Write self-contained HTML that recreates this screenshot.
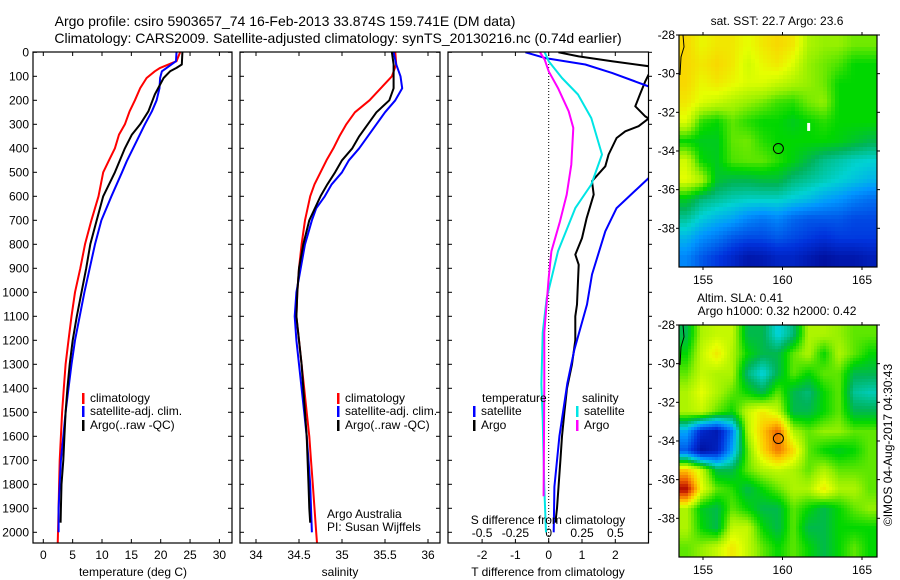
<!DOCTYPE html>
<html><head><meta charset="utf-8"><style>
html,body{margin:0;padding:0;background:#fff;}
svg{display:block;font-family:"Liberation Sans",sans-serif;}
</style></head><body>
<svg id="fig" width="900" height="580" viewBox="0 0 900 580">
<defs>
<clipPath id="c1"><rect x="33" y="52" width="199" height="491"/></clipPath>
<clipPath id="c2"><rect x="240" y="52" width="200" height="491"/></clipPath>
<clipPath id="c3"><rect x="448" y="52" width="200.5" height="491"/></clipPath>
<clipPath id="cm1"><rect x="679" y="35" width="198" height="232"/></clipPath>
<clipPath id="cm2"><rect x="679" y="325" width="198" height="232"/></clipPath>
</defs>
<text x="285" y="26" font-size="14" text-anchor="middle">Argo profile: csiro 5903657_74 16-Feb-2013 33.874S 159.741E (DM data)</text>
<text x="338" y="43" font-size="14" text-anchor="middle">Climatology: CARS2009. Satellite-adjusted climatology: synTS_20130216.nc (0.74d earlier)</text>
<g id="g1"></g>
<g id="g2"></g>
<g id="g3"></g>
<g id="gm1"></g>
<g id="gm2"></g>
<text x="777" y="25" font-size="12" text-anchor="middle">sat. SST: 22.7 Argo: 23.6</text>
<text x="740" y="302" font-size="12" text-anchor="middle">Altim. SLA: 0.41</text>
<text x="777" y="315" font-size="12" text-anchor="middle">Argo h1000: 0.32 h2000: 0.42</text>
<text x="0" y="0" font-size="12" text-anchor="middle" transform="translate(892,445) rotate(-90)">©IMOS 04-Aug-2017 04:30:43</text>
</svg>
<script>
// ---- profile data ----
const depthsT = [0,37,65,79,107,149,200,246,300,343,400,454,500,600,700,800,900,1000,1100,1200,1300,1400,1500,1600,1700,1800,1900,2000,2050];
const tempClim = [23.3,22.7,19.9,19.0,17.6,16.5,15.6,14.7,13.9,12.9,12.2,11.1,10.2,9.4,8.2,7.1,6.3,5.4,4.8,4.3,3.8,3.5,3.2,3.0,2.8,2.7,2.6,2.5,2.45];
const depthsTs = [0,37,65,79,107,149,200,246,300,400,454,500,600,700,800,900,1000,1100,1200,1300,1400,1500,1600,1700,1800,1900,2000];
const tempSat = [22.7,22.6,21.0,20.2,19.9,19.8,19.3,18.5,17.3,15.3,14.2,13.4,11.6,9.9,8.8,7.9,7.0,6.2,5.4,4.8,4.3,3.8,3.4,3.0,2.8,2.6,2.6];
const depthsTa = [0,51,65,79,107,176,246,300,343,400,500,600,700,800,900,1000,1100,1200,1300,1400,1500,1600,1700,1800,1900,1960];
const tempArgo = [23.7,23.6,22.7,21.6,20.5,19.0,17.9,16.5,15.1,13.9,12.2,10.2,9.1,8.0,7.3,6.5,5.7,5.0,4.5,4.1,3.8,3.6,3.4,3.1,3.0,2.95];
const depthsS = [0,50,100,150,200,250,300,350,400,450,500,550,600,700,800,900,1000,1100,1200,1300,1400,1500,1600,1700,1800,1900,2000,2050];
const salClim = [35.62,35.63,35.58,35.45,35.32,35.15,35.05,34.97,34.9,34.82,34.75,34.68,34.63,34.57,34.53,34.5,34.48,34.47,34.5,34.53,34.56,34.59,34.62,34.64,34.66,34.68,34.7,34.71];
const depthsSs = [0,50,100,150,200,250,300,350,400,450,500,550,600,650,700,800,900,1000,1100,1200,1300,1400,1500,1600,1700,1800,1900,2000];
const salSat = [35.6,35.63,35.68,35.7,35.62,35.5,35.4,35.3,35.2,35.08,35.0,34.88,34.8,34.7,34.65,34.57,34.52,34.47,34.45,34.47,34.5,34.53,34.56,34.59,34.61,34.63,34.64,34.65];
const depthsSa = [0,50,100,150,200,250,300,350,400,450,500,550,600,700,800,900,1000,1100,1200,1300,1400,1500,1600,1700,1800,1900,1960];
const salArgo = [35.58,35.6,35.6,35.6,35.55,35.4,35.3,35.2,35.12,35.0,34.92,34.83,34.75,34.62,34.55,34.5,34.48,34.47,34.5,34.53,34.55,34.57,34.59,34.6,34.61,34.62,34.63];
// ---- difference data ----
const depthsDTa = [0,17,37,58,75,93,121,176,225,267,276,308,329,357,426,475,537,593,690,774,843,885,1051,1100,1200,1300,1400,1500,1600,1700,1800,1900,1960];
const dTempArgo = [0.29,0.9,1.9,3.0,3.4,3.0,2.9,2.74,2.6,2.9,3.0,2.7,2.3,2.04,1.8,1.7,1.3,1.35,1.14,1.0,0.8,0.9,0.85,0.8,0.8,0.7,0.55,0.47,0.4,0.35,0.3,0.25,0.2];
const depthsDTs = [0,24,51,86,142,200,300,400,524,649,746,926,1051,1240,1380,1600,1810,2000];
const dTempSat = [-0.7,-0.1,1.1,1.9,3.0,3.5,3.7,3.5,3.0,2.04,1.7,1.3,1.15,0.77,0.56,0.32,0.17,0.15];
const depthsDSs = [0,37,107,176,274,426,551,649,829,1024,1168,1383,1527,1814,2000];
const dSalSat = [-0.03,0,0.1,0.22,0.32,0.4,0.32,0.2,0.07,-0.015,-0.045,-0.055,-0.045,-0.033,-0.02];
const depthsDSa = [0,31,79,149,246,315,468,593,704,829,940,1168,1383,1600,1850];
const dSalArgo = [-0.065,-0.03,0,0.07,0.15,0.185,0.17,0.135,0.085,0.02,0,-0.033,-0.033,-0.035,-0.038];
// ---- tick labels ----
const depthTicks = [0,100,200,300,400,500,600,700,800,900,1000,1100,1200,1300,1400,1500,1600,1700,1800,1900,2000];
const tempTicks = [0,5,10,15,20,25,30];
const salTicks = [34,34.5,35,35.5,36];
const salTickLabels = ["34","34.5","35","35.5","36"];
const dTTicks = [-2,-1,0,1,2];
const dSTicks = [-0.5,-0.25,0,0.25,0.5];
const dSTickLabels = ["-0.5","-0.25","0","0.25","0.5"];
const lonTicks = [155,160,165];
const latTicks = [-28,-30,-32,-34,-36,-38];
// ---- map grids (rows lat -28..-40 step 1, cols lon 153.5..166 step ~1) ----
const sstGrid = [
[0.7,0.66,0.68,0.68,0.65,0.68,0.7,0.68,0.6,0.58,0.58,0.56,0.56],
[0.7,0.68,0.7,0.68,0.63,0.66,0.68,0.64,0.58,0.56,0.54,0.5,0.5],
[0.7,0.66,0.68,0.66,0.64,0.64,0.62,0.6,0.58,0.56,0.5,0.5,0.5],
[0.68,0.64,0.62,0.6,0.58,0.56,0.53,0.52,0.56,0.58,0.5,0.5,0.5],
[0.64,0.52,0.5,0.55,0.52,0.5,0.5,0.48,0.5,0.52,0.5,0.5,0.5],
[0.5,0.48,0.48,0.55,0.56,0.52,0.5,0.5,0.5,0.5,0.49,0.47,0.45],
[0.63,0.5,0.48,0.54,0.55,0.55,0.52,0.49,0.45,0.41,0.39,0.37,0.36],
[0.65,0.6,0.47,0.45,0.45,0.46,0.46,0.42,0.4,0.38,0.36,0.34,0.32],
[0.48,0.42,0.4,0.38,0.37,0.37,0.37,0.35,0.33,0.3,0.28,0.25,0.23],
[0.4,0.35,0.32,0.3,0.26,0.24,0.26,0.22,0.2,0.2,0.2,0.18,0.18],
[0.32,0.27,0.24,0.2,0.18,0.18,0.2,0.18,0.16,0.14,0.16,0.16,0.16],
[0.26,0.2,0.16,0.12,0.07,0.08,0.11,0.11,0.08,0.05,0.07,0.07,0.09]];
const slaGrid = [
[0.45,0.6,0.62,0.62,0.45,0.45,0.35,0.42,0.6,0.6,0.58,0.55,0.55],
[0.5,0.62,0.68,0.6,0.5,0.45,0.45,0.55,0.6,0.5,0.6,0.55,0.5],
[0.55,0.62,0.6,0.6,0.42,0.35,0.45,0.55,0.5,0.55,0.55,0.45,0.45],
[0.6,0.65,0.6,0.55,0.5,0.45,0.55,0.45,0.42,0.5,0.55,0.4,0.38],
[0.6,0.62,0.55,0.5,0.62,0.68,0.62,0.45,0.45,0.5,0.55,0.45,0.45],
[0.3,0.12,0.08,0.25,0.6,0.72,0.82,0.6,0.55,0.58,0.58,0.55,0.55],
[0.2,0.05,0.1,0.3,0.55,0.7,0.8,0.7,0.55,0.5,0.48,0.5,0.55],
[0.72,0.62,0.45,0.45,0.55,0.6,0.62,0.6,0.55,0.6,0.55,0.55,0.55],
[0.92,0.65,0.55,0.52,0.45,0.5,0.55,0.6,0.6,0.68,0.6,0.6,0.55],
[0.6,0.48,0.45,0.55,0.5,0.45,0.45,0.55,0.5,0.45,0.5,0.55,0.58],
[0.6,0.5,0.45,0.62,0.62,0.5,0.45,0.55,0.45,0.45,0.5,0.5,0.5],
[0.55,0.58,0.62,0.68,0.62,0.55,0.5,0.55,0.5,0.45,0.5,0.55,0.5]];
const floatLon = 159.741, floatLat = -33.874;

const NS='http://www.w3.org/2000/svg';
function mk(tag, attrs, parent){const e=document.createElementNS(NS,tag);for(const k in attrs)e.setAttribute(k,attrs[k]);parent.appendChild(e);return e;}
const yD = d => 52.3 + d*0.24;
const xT = t => 43.3 + t*5.87;
const xS = s => 256 + (s-34)*86;
const xDT = t => 548.7 + t*33.3;
const xDS = s => 548.7 + s*133.2;

function frame(g, x0, x1, y0, y1){
  const r = mk('rect',{x:x0,y:y0,width:x1-x0,height:y1-y0,fill:'none',stroke:'#000','stroke-width':1.2},g);
  
  
}
function line(g, xs, ds, fx, color, w, clip, name){
  let p='';
  for(let i=0;i<xs.length;i++){p+=(i?'L':'M')+fx(xs[i]).toFixed(1)+','+yD(ds[i]).toFixed(1);}
  const e = mk('path',{d:p,fill:'none',stroke:color,'stroke-width':w,'clip-path':'url(#'+clip+')','stroke-linejoin':'round'},g);
  
  
}
function txt(g, x, y, s, anchor, size, name){
  const t = mk('text',{x:x,y:y,'font-size':size||12,'text-anchor':anchor||'start'},g);
  t.textContent = s;
  
  
  return t;
}
function xticks(g, vals, labels, fx, y0, y1, ly, name){
  vals.forEach((v,i)=>{
    const x=fx(v);
    mk('line',{x1:x,x2:x,y1:y1,y2:y1-4,stroke:'#000'},g);
    mk('line',{x1:x,x2:x,y1:y0,y2:y0+4,stroke:'#000'},g);
    txt(g,x,ly,labels[i],'middle',12,name);
  });
}
function yticks(g, x0, x1, labels){
  depthTicks.forEach(d=>{
    const y=yD(d);
    mk('line',{x1:x0,x2:x0+4,y1:y,y2:y,stroke:'#000'},g);
    mk('line',{x1:x1,x2:x1-4,y1:y,y2:y,stroke:'#000'},g);
    if(labels) txt(g,29,y+4,String(d),'end',12,'depth-tick-label');
  });
}
function legendRow(g,x,y,color,label,name){
  const r=mk('rect',{x:x,y:y-9,width:2.5,height:11,fill:color},g);
  
  
  txt(g,x+8,y,label,'start',12,name);
}

// Panel 1
const g1=document.getElementById('g1');
yticks(g1,33,232,true);
xticks(g1,tempTicks,tempTicks.map(String),xT,52,543,559,'temp-tick-label');
line(g1,tempClim,depthsT,xT,'#ff0000',2,'c1','temp-climatology-line');
line(g1,tempSat,depthsTs,xT,'#0000ff',2,'c1','temp-satellite-line');
line(g1,tempArgo,depthsTa,xT,'#000',2,'c1','temp-argo-line');
frame(g1,33,232,52,543);
txt(g1,133,576,'temperature (deg C)','middle',12,'temp-axis-title');
legendRow(g1,82,402,'#ff0000','climatology','legend-climatology');
legendRow(g1,82,415,'#0000ff','satellite-adj. clim.','legend-satellite');
legendRow(g1,82,429,'#000','Argo(..raw -QC)','legend-argo');

// Panel 2
const g2=document.getElementById('g2');
yticks(g2,240,440,false);
xticks(g2,salTicks,salTickLabels,xS,52,543,559,'sal-tick-label');
line(g2,salClim,depthsS,xS,'#ff0000',2,'c2','sal-climatology-line');
line(g2,salSat,depthsSs,xS,'#0000ff',2,'c2','sal-satellite-line');
line(g2,salArgo,depthsSa,xS,'#000',2,'c2','sal-argo-line');
frame(g2,240,440,52,543);
txt(g2,340,576,'salinity','middle',12,'sal-axis-title');
legendRow(g2,337,402,'#ff0000','climatology','legend-climatology');
legendRow(g2,337,415,'#0000ff','satellite-adj. clim.','legend-satellite');
legendRow(g2,337,429,'#000','Argo(..raw -QC)','legend-argo');
txt(g2,327,518,'Argo Australia','start',12,'credit-argo-australia');
txt(g2,327,531,'PI: Susan Wijffels','start',12,'credit-pi');

// Panel 3
const g3=document.getElementById('g3');
depthTicks.forEach(d=>{const y=yD(d);mk('line',{x1:648.5,x2:652,y1:y,y2:y,stroke:'#000'},g3);mk('line',{x1:448,x2:452,y1:y,y2:y,stroke:'#000'},g3);});
xticks(g3,dTTicks,dTTicks.map(String),xDT,52,543,559,'dT-tick-label');
dSTicks.forEach((v,i)=>{txt(g3,xDS(v),537,dSTickLabels[i],'middle',12,'dS-tick-label');});
mk('line',{x1:xDT(0),x2:xDT(0),y1:52,y2:543,stroke:'#000','stroke-dasharray':'1,2'},g3);
line(g3,dTempArgo,depthsDTa,xDT,'#000',2,'c3','dT-argo-line');
line(g3,dTempSat,depthsDTs,xDT,'#0000ff',2,'c3','dT-satellite-line');
line(g3,dSalSat,depthsDSs,xDS,'#00e5e5',2,'c3','dS-satellite-line');
line(g3,dSalArgo,depthsDSa,xDS,'#ff00ff',2,'c3','dS-argo-line');
frame(g3,448,648.5,52,543);
txt(g3,548,524,'S difference from climatology','middle',12,'dS-axis-title');
txt(g3,548,576,'T difference from climatology','middle',12,'dT-axis-title');
txt(g3,482,402,'temperature','start',12,'legend-temperature-header');
txt(g3,582,402,'salinity','start',12,'legend-salinity-header');
legendRow(g3,473,415,'#0000ff','satellite','legend-temp-satellite');
legendRow(g3,473,429,'#000','Argo','legend-temp-argo');
legendRow(g3,576,415,'#00e5e5','satellite','legend-sal-satellite');
legendRow(g3,576,429,'#ff00ff','Argo','legend-sal-argo');

// Maps
const stops=[[0,[0,0,130]],[0.15,[0,50,220]],[0.28,[0,150,255]],[0.36,[0,210,210]],[0.44,[0,180,90]],[0.5,[0,215,0]],[0.58,[150,240,0]],[0.65,[230,255,0]],[0.72,[255,200,0]],[0.82,[240,100,0]],[0.9,[190,20,0]],[1,[130,0,0]]];
function cmap(v){v=Math.max(0,Math.min(1,v));for(let i=1;i<stops.length;i++){if(v<=stops[i][0]){const a=stops[i-1],b=stops[i];const f=(v-a[0])/(b[0]-a[0]);return 'rgb('+a[1].map((c,k)=>Math.round(c+(b[1][k]-c)*f)).join(',')+')';}}return 'rgb(130,0,0)';}
function drawMap(gid, grid, y0, clip, blocky){
  const g=document.getElementById(gid);
  const x0=679,x1=877,h=232,lon0=153.49,pxLon=15.9,pxLat=19.33;
  const xL=lon=>x0+(lon-lon0)*pxLon, yL=lat=>y0+(-28-lat)*pxLat;
  const rows=grid.length, cols=grid[0].length;
  const cg=mk('g',{'clip-path':'url(#'+clip+')'},g);
  const step=blocky?4:3;
  for(let py=y0;py<y0+h;py+=step){
    for(let px=x0;px<x1;px+=step){
      const cx=(px+step/2-x0)/(x1-x0)*cols-0.5, cy=(py+step/2-y0)/h*rows-0.5;
      const i0=Math.max(0,Math.min(rows-1,Math.floor(cy))), j0=Math.max(0,Math.min(cols-1,Math.floor(cx)));
      const i1=Math.min(rows-1,i0+1), j1=Math.min(cols-1,j0+1);
      const fy=Math.max(0,Math.min(1,cy-i0)), fx=Math.max(0,Math.min(1,cx-j0));
      const v=grid[i0][j0]*(1-fx)*(1-fy)+grid[i0][j1]*fx*(1-fy)+grid[i1][j0]*(1-fx)*fy+grid[i1][j1]*fx*fy;
      mk('rect',{x:px,y:py,width:step+0.3,height:step+0.3,fill:cmap(v)},cg);
    }
  }
  const c=mk('path',{d:'M'+(x0+4)+','+y0+' L'+(x0+5)+','+(y0+12)+' L'+(x0+2)+','+(y0+22)+' L'+(x0+1)+','+(y0+40),fill:'none',stroke:'#000','stroke-width':1},g);
  
  
  const circ=mk('circle',{cx:xL(floatLon),cy:yL(floatLat),r:5,fill:'none',stroke:'#000','stroke-width':1},g);
  
  
  const fr=mk('rect',{x:x0,y:y0,width:x1-x0,height:h,fill:'none',stroke:'#000','stroke-width':1.2},g);
  
  
  lonTicks.forEach(l=>{const x=xL(l);mk('line',{x1:x,x2:x,y1:y0+h,y2:y0+h+3,stroke:'#000'},g);mk('line',{x1:x,x2:x,y1:y0,y2:y0-3,stroke:'#000'},g);txt(g,x,y0+h+17,String(l),'middle',12,'lon-tick-label');});
  latTicks.forEach(l=>{const y=yL(l);mk('line',{x1:x0-3,x2:x0,y1:y,y2:y,stroke:'#000'},g);mk('line',{x1:x1,x2:x1+3,y1:y,y2:y,stroke:'#000'},g);txt(g,x0-4,y+4,String(l),'end',12,'lat-tick-label');});
  return {xL,yL,g};
}
const m1=drawMap('gm1',sstGrid,35,'cm1',true);
const wr=mk('rect',{x:m1.xL(161.55),y:m1.yL(-32.55),width:3,height:8,fill:'#fff'},m1.g);


drawMap('gm2',slaGrid,325,'cm2',false);
</script>
</body></html>
